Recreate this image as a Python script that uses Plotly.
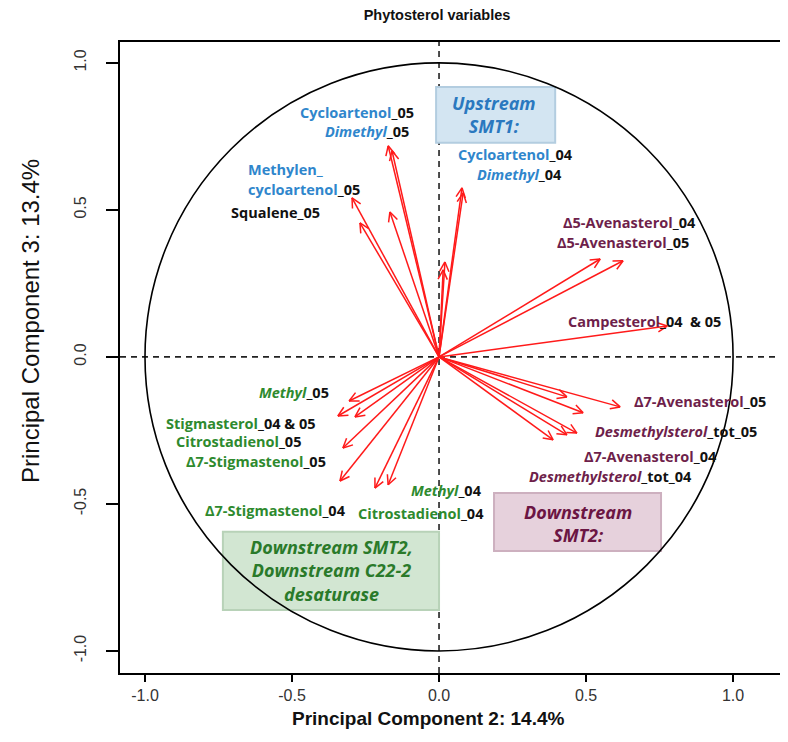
import math
import plotly.graph_objects as go

# ---------------- data (loadings) ----------------
# PC2 (x) and PC3 (y) loadings of the phytosterol variables (arrow tips)
pc2 = [-0.173, -0.160, -0.296, -0.269, -0.167,
       0.078, 0.082, 0.020, 0.014,
       0.548, 0.626, 0.776,
       0.435, 0.616, 0.490, 0.469, 0.435, 0.388,
       -0.306, -0.344, -0.286, -0.327, -0.337, -0.218, -0.173]
pc3 = [0.718, 0.701, 0.541, 0.456, 0.493,
       0.575, 0.558, 0.323, 0.296,
       0.333, 0.327, 0.105,
       -0.136, -0.170, -0.190, -0.259, -0.265, -0.282,
       -0.150, -0.201, -0.204, -0.310, -0.422, -0.446, -0.435]

tick_vals = [-1.0, -0.5, 0.0, 0.5, 1.0]
tick_text = ["-1.0", "-0.5", "0.0", "0.5", "1.0"]

title_text = "Phytosterol variables"
x_title = "Principal Component 2: 14.4%"
y_title = "Principal Component 3: 13.4%"

BLUE = "#2f86cc"
MAROON = "#6e1f4b"
GREEN = "#2e8a2e"
BLACK = "#111111"


def c(txt, col, italic=False):
    s = f"<span style='color:{col}'>{txt}</span>"
    return f"<i>{s}</i>" if italic else s


# label text, x, y, anchor
labels = [
    (c("Cycloartenol", BLUE) + c("_05", BLACK), -0.078, 0.830, "right"),
    (c("Dimethyl", BLUE, True) + c("_05", BLACK), -0.095, 0.765, "right"),
    (c("Methylen_", BLUE), -0.656, 0.636, "left"),
    (c("cycloartenol", BLUE) + c("_05", BLACK), -0.656, 0.568, "left"),
    (c("Squalene_05", BLACK), -0.714, 0.490, "left"),
    (c("Cycloartenol", BLUE) + c("_04", BLACK), 0.058, 0.690, "left"),
    (c("Dimethyl", BLUE, True) + c("_04", BLACK), 0.425, 0.619, "right"),
    (c("Δ5-Avenasterol", MAROON) + c("_04", BLACK), 0.881, 0.456, "right"),
    (c("Δ5-Avenasterol", MAROON) + c("_05", BLACK), 0.857, 0.388, "right"),
    (c("Campesterol", MAROON) + c("_04  &amp; 05", BLACK), 0.432, 0.122, "left"),
    (c("Δ7-Avenasterol", MAROON) + c("_05", BLACK), 1.119, -0.153, "right"),
    (c("Desmethylsterol", MAROON, True) + c("_tot_05", BLACK), 1.088, -0.252, "right"),
    (c("Δ7-Avenasterol", MAROON) + c("_04", BLACK), 0.952, -0.340, "right"),
    (c("Desmethylsterol", MAROON, True) + c("_tot_04", BLACK), 0.867, -0.405, "right"),
    (c("Methyl", GREEN, True) + c("_05", BLACK), -0.367, -0.122, "right"),
    (c("Stigmasterol", GREEN) + c("_04 &amp; 05", BLACK), -0.412, -0.228, "right"),
    (c("Citrostadienol", GREEN) + c("_05", BLACK), -0.463, -0.289, "right"),
    (c("Δ7-Stigmastenol", GREEN) + c("_05", BLACK), -0.378, -0.354, "right"),
    (c("Δ7-Stigmastenol", GREEN) + c("_04", BLACK), -0.310, -0.524, "right"),
    (c("Methyl", GREEN, True) + c("_04", BLACK), 0.153, -0.456, "right"),
    (c("Citrostadienol", GREEN) + c("_04", BLACK), 0.160, -0.531, "right"),
]

# group boxes: (x0, y0, x1, y1, fill, border, text, text colour, text x, text y)
boxes = [
    (-0.010, 0.728, 0.395, 0.918, "#d3e5f2", "#b3cde0",
     "Upstream<br>SMT1:", "#2a78bf", 0.187, 0.823),
    (0.187, -0.660, 0.755, -0.463, "#e6d1dc", "#cdb0bf",
     "Downstream<br>SMT2:", "#6b1543", 0.473, -0.565),
    (-0.735, -0.861, 0.0, -0.595, "#d2e6d2", "#b8d2b8",
     "Downstream SMT2,<br>Downstream C22-2<br>desaturase", "#2a7a2a", -0.367, -0.728),
]

# ---------------- arrows (shaft + open V head, computed from loadings) ----------------
head_len = 0.036
head_ang = math.radians(26)
ax_x, ax_y = [], []
for x, y in zip(pc2, pc3):
    ang = math.atan2(y, x)
    ax_x += [0, x, None]
    ax_y += [0, y, None]
    for s in (1, -1):
        ax_x += [x, x - head_len * math.cos(ang + s * head_ang), None]
        ax_y += [y, y - head_len * math.sin(ang + s * head_ang), None]

fig = go.Figure()
fig.add_trace(go.Scatter(x=ax_x, y=ax_y, mode="lines",
                         line=dict(color="#ff1a1a", width=1.5),
                         hoverinfo="skip", showlegend=False))

shapes = []
for b in boxes:
    shapes.append(dict(type="rect", xref="x", yref="y", x0=b[0], y0=b[1], x1=b[2], y1=b[3],
                       fillcolor=b[4], line=dict(color=b[5], width=2), layer="below"))
shapes.append(dict(type="circle", xref="x", yref="y", x0=-1, y0=-1, x1=1, y1=1,
                   line=dict(color="black", width=1.6), layer="below"))
shapes.append(dict(type="line", xref="x", yref="paper", x0=0, x1=0, y0=0, y1=1,
                   line=dict(color="#222", width=1.6, dash="6px,5px"), layer="below"))
shapes.append(dict(type="line", xref="paper", yref="y", x0=0, x1=1, y0=0, y1=0,
                   line=dict(color="#222", width=1.6, dash="6px,5px"), layer="below"))

ann = []
LBL_FONT = dict(family="Open Sans, DejaVu Sans, sans-serif", size=14.5, weight="bold")
for txt, x, y, anc in labels:
    ann.append(dict(x=x, y=y, xref="x", yref="y", text=txt, showarrow=False,
                    xanchor=anc, yanchor="middle", font=LBL_FONT))
for b in boxes:
    ann.append(dict(x=b[8], y=b[9], xref="x", yref="y", text=f"<b><i>{b[6]}</i></b>",
                    showarrow=False, xanchor="center", yanchor="middle", align="center",
                    font=dict(family="Open Sans, DejaVu Sans, sans-serif", size=18, color=b[7])))

# plot area in figure pixels (page body adds an 8 px offset)
L, R, T, B = 112, 778, 34, 665
PW, PH = R - L, B - T

# axis titles
ann.append(dict(x=(420 - L) / PW, y=(B - 710) / PH, xref="paper", yref="paper",
                text=x_title, showarrow=False, xanchor="center", yanchor="middle",
                font=dict(family="Liberation Sans Narrow, Arial Narrow, sans-serif",
                          size=19, color="#111", weight="bold")))
ann.append(dict(x=(22 - L) / PW, y=(B - 313) / PH, xref="paper", yref="paper",
                text=y_title, showarrow=False, xanchor="center", yanchor="middle",
                textangle=-90,
                font=dict(family="Liberation Sans Narrow, Arial Narrow, sans-serif",
                          size=24, color="#111")))

axis_common = dict(showgrid=False, zeroline=False, showline=True, mirror=True,
                   automargin=False,
                   linecolor="black", linewidth=1.5, ticks="outside",
                   tickwidth=1.5, tickcolor="black", tickvals=tick_vals, ticktext=tick_text,
                   tickfont=dict(family="Liberation Sans, Arial, sans-serif", size=16,
                                 color="#333"))

fig.update_layout(
    template="none",
    width=788, height=742,
    margin=dict(l=L, r=788 - R, t=T, b=742 - B, pad=0),
    paper_bgcolor="white", plot_bgcolor="white",
    title=dict(text=f"<b>{title_text}</b>", x=429 / 788, xanchor="center", xref="container",
               y=1 - 7 / 742, yanchor="middle", yref="container",
               font=dict(family="Liberation Sans, Arial, sans-serif", size=14.5, color="#111")),
    xaxis=dict(range=[-1.085, 1.180], ticklen=7, **axis_common),
    yaxis=dict(range=[-1.075, 1.071], ticklen=12, tickangle=-90, ticklabelstandoff=14,
               **axis_common),
    shapes=shapes, annotations=ann, showlegend=False,
)

fig.write_html("out.html")
